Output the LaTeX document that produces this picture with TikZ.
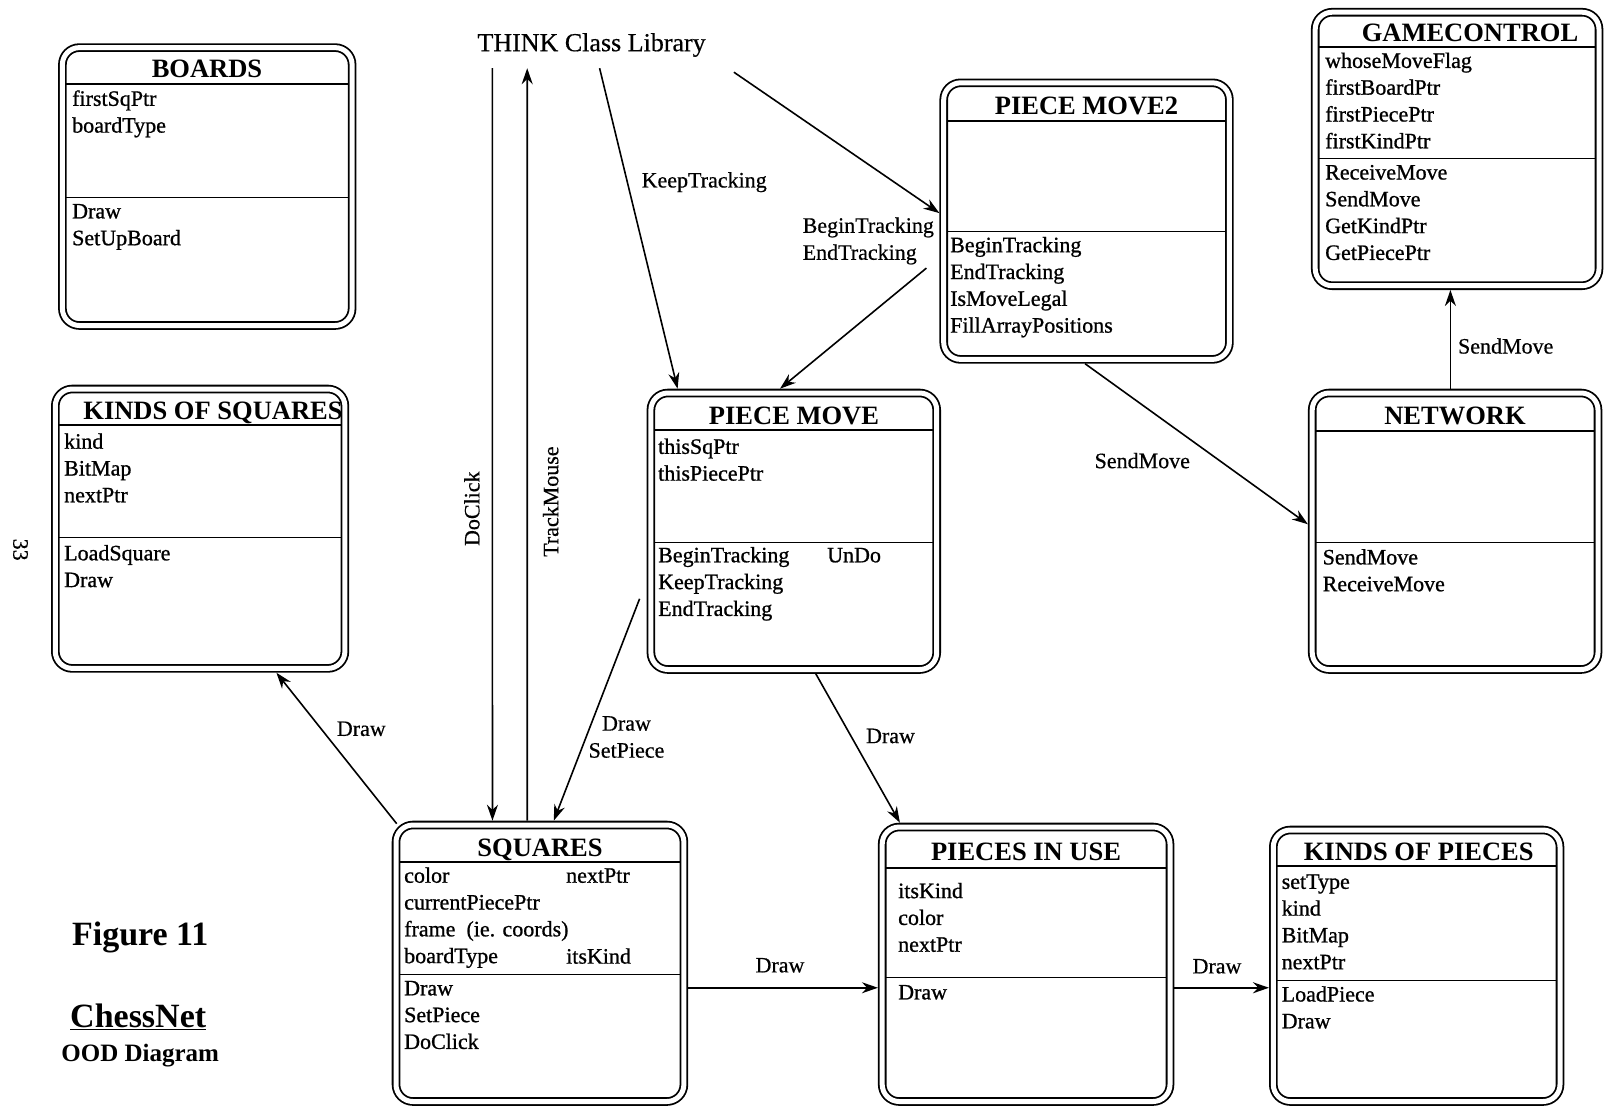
\documentclass[tikz,border=0pt]{standalone}
\usepackage{fontspec}
\setmainfont{Liberation Serif}
\newfontfamily\heavyfont{Liberation Serif}[FakeBold=0.9]
\newfontfamily\midfont{Liberation Serif}[FakeBold=0.5]
\usetikzlibrary{arrows.meta}
\tikzset{
  cbox/.style={draw, double, double distance=5pt, line width=1.8pt, rounded corners=17pt, inner sep=0pt, outer sep=4.3pt},
  sepline/.style={line width=1.5pt},
  ctitle/.style={font=\fontsize{26.5}{30}\selectfont\bfseries, inner sep=0pt, anchor=base},
  item/.style={font=\fontsize{22}{26}\selectfont\heavyfont, inner sep=0pt, anchor=base west},
  lbl/.style={font=\fontsize{22}{27}\selectfont\midfont, inner sep=0pt},
  arr/.style={line width=1.6pt, -{Stealth[length=16pt,width=11pt]}},
}
\newcommand\clsbox[7]{%
  \node[cbox, minimum width={#4-#2}, minimum height={#5-#3}] (#1) at ({(#2+#4)/2},{(#3+#5)/2}) {};
  \draw[sepline] ({#2+4},#6) -- ({#4-4},#6);
  \draw[sepline] ({#2+4},#7) -- ({#4-4},#7);
}
\newcommand\clstitle[4]{\node[ctitle] (#1) at (#2,{#3+9}) {#4};}
\newcommand\clsitems[4]{\foreach \itm [count=\i] in {#4} {\node[item] (#1\i) at (#2,{#3+6.5+(\i-1)*26.8}) {\itm};}}
\begin{document}
\begin{tikzpicture}[x=1pt,y=-1pt]
\useasboundingbox (0,0) rectangle (1605,1109);

% BOARDS
\clsbox{boards}{62.4}{47.6}{352.1}{325.5}{83.9}{197.6}
\clstitle{boardsT}{207}{68.6}{BOARDS}
\clsitems{boardsA}{72}{99.3}{firstSqPtr,boardType}
\clsitems{boardsM}{72}{211.9}{Draw,SetUpBoard}

% KINDS OF SQUARES
\clsbox{kosq}{55.3}{389}{344.9}{668.4}{424.8}{537.4}
\clstitle{kosqT}{213}{410.5}{KINDS OF SQUARES}
\clsitems{kosqA}{64}{442.2}{kind,BitMap,nextPtr}
\clsitems{kosqM}{64}{553.8}{LoadSquare,Draw}

% SQUARES
\clsbox{squares}{396}{825}{683.9}{1101.5}{861.9}{974.5}
\clstitle{squaresT}{540}{847.5}{SQUARES}
\clsitems{squaresA}{404}{876.2}{color,currentPiecePtr,{frame\enspace(ie. coords)},boardType}
\clsitems{squaresM}{404}{988.8}{Draw,SetPiece,DoClick}
\node[item] (squaresNext) at (566,882.7) {nextPtr};
\node[item] (squaresKind) at (566,963.6) {itsKind};

% PIECES IN USE
\clsbox{piu}{882.2}{827}{1170}{1101.5}{868}{977.5}
\clstitle{piuT}{1026}{851.6}{PIECES IN USE}
\clsitems{piuA}{898}{891.6}{itsKind,color,nextPtr}
\clsitems{piuM}{898}{992.9}{Draw}

% KINDS OF PIECES
\clsbox{kop}{1273.3}{830}{1560}{1101.5}{866}{980.6}
\clstitle{kopT}{1418.7}{851.6}{KINDS OF PIECES}
\clsitems{kopA}{1281.5}{882.3}{setType,kind,BitMap,nextPtr}
\clsitems{kopM}{1281.5}{995}{LoadPiece,Draw}

% PIECE MOVE
\clsbox{pm}{650.9}{393}{936.7}{669.5}{430}{542.5}
\clstitle{pmT}{794}{415.6}{PIECE MOVE}
\clsitems{pmA}{658}{447.3}{thisSqPtr,thisPiecePtr}
\clsitems{pmM}{658}{555.8}{BeginTracking,KeepTracking,EndTracking}
\node[item] (pmUndo) at (827,562.3) {UnDo};

% PIECE MOVE2
\clsbox{pmtwo}{943.7}{82.8}{1229.4}{359.4}{120.8}{231.3}
\clstitle{pmtwoT}{1086.5}{105.4}{PIECE MOVE2}
\clsitems{pmtwoM}{950}{245.7}{BeginTracking,EndTracking,IsMoveLegal,FillArrayPositions}

% GAMECONTROL
\clsbox{gc}{1315.2}{12.2}{1599}{285.7}{47.1}{158.7}
\clstitle{gcT}{1470}{32.8}{GAMECONTROL}
\clsitems{gcA}{1325}{61.4}{whoseMoveFlag,firstBoardPtr,firstPiecePtr,firstKindPtr}
\clsitems{gcM}{1325}{173}{ReceiveMove,SendMove,GetKindPtr,GetPiecePtr}

% NETWORK
\clsbox{net}{1312.2}{393}{1598}{669.5}{431}{542.5}
\clstitle{netT}{1455}{415.6}{NETWORK}
\clsitems{netM}{1322.5}{557.9}{SendMove,ReceiveMove}

% THINK
\node[font=\fontsize{26}{30}\selectfont\midfont, inner sep=0pt, minimum height=46pt] (think) at (591.6,45) {THINK Class Library};

% connectors
\draw[arr] ([xshift=-99.2pt]think.south) -- ([xshift=-47.5pt]squares.north);
\node[lbl, rotate=90] (lDoClick) at (471.9,508.7) {DoClick};
\draw[arr] ([xshift=-12.7pt]squares.north) -- ([xshift=-64.4pt]think.south);
\node[lbl, rotate=90] (lTrack) at (550.7,501.6) {TrackMouse};

\draw[arr] ([xshift=8pt]think.south) -- ([xshift=-116.2pt]pm.north);
\node[lbl] (lKeep) at (704.2,182.2) {KeepTracking};

\draw[arr] ([xshift=142.3pt,yshift=-4pt]think.south) -- ([yshift=8pt]pmtwo.west);
\node[lbl, align=left, anchor=west] (lBE) at (802.5,241) {BeginTracking\\EndTracking};

\draw[arr] ([xshift=-13pt,yshift=-47pt]pmtwo.west) -- ([xshift=-13.8pt]pm.north);

\draw[arr] ([xshift=-7pt,yshift=-67.5pt]pm.west) -- ([xshift=13.8pt]squares.north);
\node[lbl, align=center] (lDS) at (626.5,737) {Draw\\SetPiece};

\draw[arr] ([xshift=22pt]pm.south) -- ([xshift=22pt]piu.north west);
\node[lbl] (lD1) at (890.5,736) {Draw};

\draw[arr] ([xshift=5pt,yshift=-3pt]squares.north west) -- ([xshift=76.3pt]kosq.south);
\node[lbl] (lD2) at (361.3,728.8) {Draw};

\draw[arr] ([yshift=-24.5pt]squares.east) -- ([yshift=-23.5pt]piu.west);
\node[lbl] (lD3) at (780,965.3) {Draw};

\draw[arr] ([yshift=-23.5pt]piu.east) -- ([yshift=-22pt]kop.west);
\node[lbl] (lD4) at (1217,966.3) {Draw};

\draw[arr] ([xshift=-1.5pt]pmtwo.south) -- ([yshift=7pt]net.west);
\node[lbl] (lS1) at (1142.3,460.6) {SendMove};

\draw[arr] ([xshift=-4.7pt]net.north) -- ([xshift=-6.7pt]gc.south);
\node[lbl] (lS2) at (1505.7,346) {SendMove};

% misc
\node[lbl, rotate=-90] (pagenum) at (20.5,549.7) {33};
\node[font=\fontsize{34}{40}\selectfont\bfseries, inner sep=0pt] (fig) at (140.2,937.6) {Figure 11};
\node[font=\fontsize{34}{40}\selectfont\bfseries, inner sep=0pt] (chess) at (138.2,1016.4) {\underline{ChessNet}};
\node[font=\fontsize{25}{30}\selectfont\bfseries, inner sep=0pt] (ood) at (140.2,1055.3) {OOD Diagram};
\end{tikzpicture}
\end{document}
